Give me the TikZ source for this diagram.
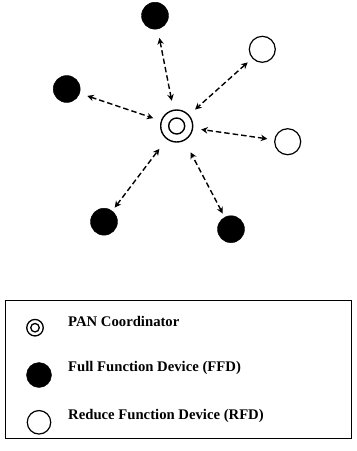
\documentclass[tikz,border=0pt]{standalone}
\usepackage{fontspec}
\setmainfont{Liberation Serif}
\usetikzlibrary{arrows.meta}
\begin{document}
\begin{tikzpicture}[x=1pt,y=-1pt,
  ffd/.style={circle,fill=black,draw=black,minimum size=27pt,inner sep=0pt},
  rfd/.style={circle,draw=black,line width=1.2pt,minimum size=26pt,inner sep=0pt},
  coordo/.style={circle,draw=black,line width=1.4pt,minimum size=32pt,inner sep=0pt},
  coordi/.style={circle,draw=black,line width=1.4pt,minimum size=16pt,inner sep=0pt},
  link/.style={line width=1.4pt,dash pattern=on 5.5pt off 3pt,{Stealth[length=6.5pt,width=6.5pt]}-{Stealth[length=6.5pt,width=6.5pt]}},
  legtext/.style={anchor=base west,font=\fontsize{14.7pt}{16pt}\selectfont\bfseries,inner sep=0pt}]
\useasboundingbox (0,0) rectangle (357,451);
% network
\node[coordo] (C) at (176.7,126) {};
\node[coordi] (Ci) at (176.7,126) {};
\node[ffd] (T) at (155,15.7) {};
\node[rfd] (RT) at (262.3,49.3) {};
\node[ffd] (L) at (66.7,89) {};
\node[rfd] (R) at (287.7,141.7) {};
\node[ffd] (BL) at (104,221.7) {};
\node[ffd] (BR) at (231,229.2) {};
\draw[link,shorten <=9pt,shorten >=9pt] (T) -- (C);
\draw[link,shorten <=6pt,shorten >=8pt] (RT) -- (C);
\draw[link,shorten <=8pt,shorten >=8pt] (L) -- (C);
\draw[link,shorten <=7pt,shorten >=8pt] (R) -- (C);
\draw[link,shorten <=4pt,shorten >=12pt] (BL) -- (C);
\draw[link,shorten <=4pt,shorten >=13pt] (BR) -- (C);
% legend
\node[draw=black,line width=1pt,minimum width=346pt,minimum height=138pt,inner sep=0pt] (box) at (178,369) {};
\node[circle,draw=black,line width=1.3pt,minimum size=16.5pt,inner sep=0pt] (lc) at (35,327.7) {};
\node[circle,draw=black,line width=1.3pt,minimum size=8.5pt,inner sep=0pt] (lci) at (35,327.7) {};
\node[ffd,minimum size=25pt] (lf) at (39,375) {};
\node[rfd,minimum size=23.5pt] (lr) at (39,422.3) {};
\node[legtext] (t1) at (68,326.7) {PAN Coordinator};
\node[legtext] (t2) at (68,371) {Full Function Device (FFD)};
\node[legtext] (t3) at (68,419) {Reduce Function Device (RFD)};
\end{tikzpicture}
\end{document}
